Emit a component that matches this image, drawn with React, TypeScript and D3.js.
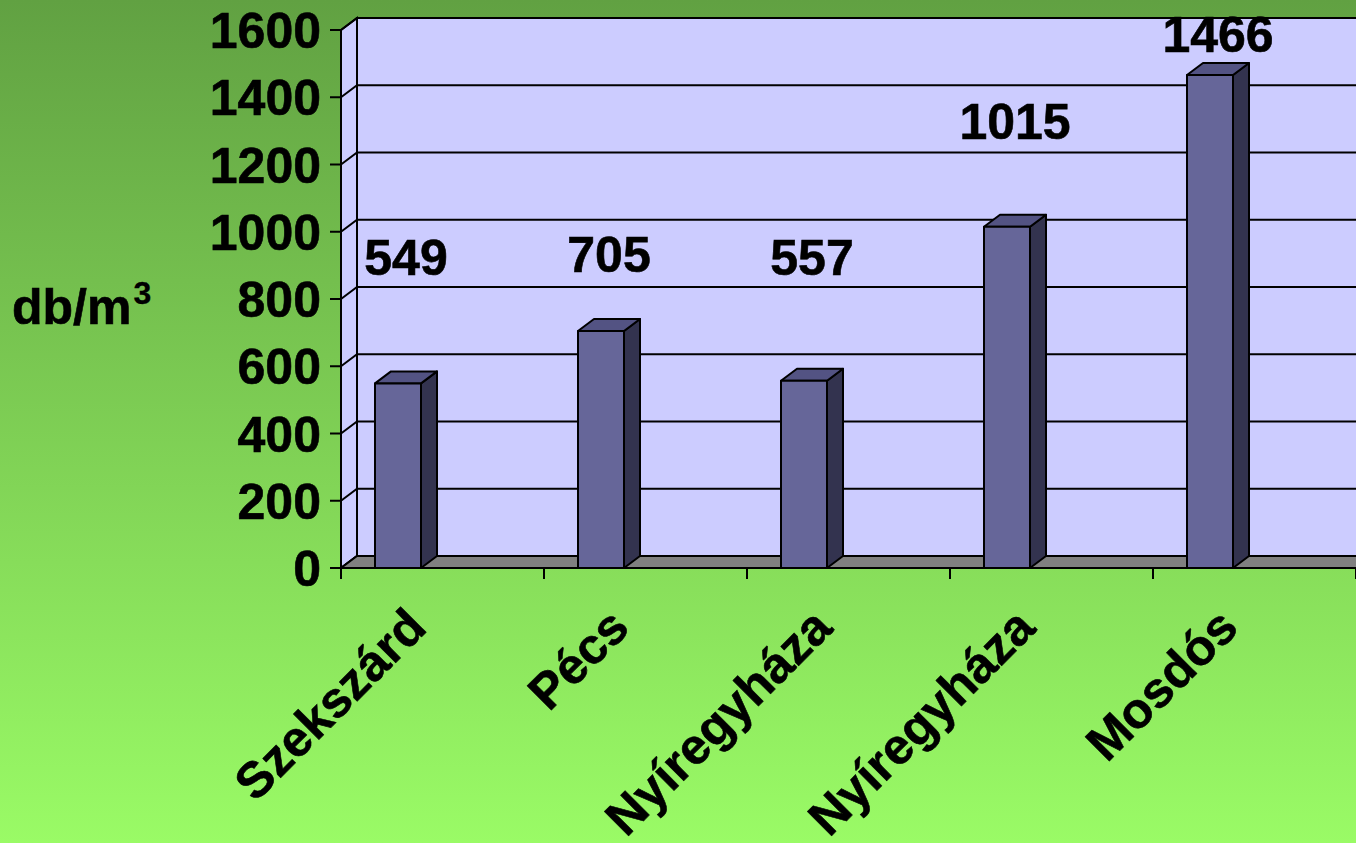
import * as d3 from "d3";
import { useEffect, useRef } from "react";

const categories = ["Szekszárd", "Pécs", "Nyíregyháza", "Nyíregyháza ", "Mosdós"];
const values = [549, 705, 557, 1015, 1466];
// where each value label sits, in chart units (hand placed in the original)
const labelLevels = [871, 880, 871, 1276, 1535];
const yTicks = [0, 200, 400, 600, 800, 1000, 1200, 1400, 1600];

export default function App() {
  const ref = useRef<SVGSVGElement>(null);

  useEffect(() => {
    if (!ref.current) return;
    const el = ref.current;
    d3.select(el).selectAll("*").remove();

    const W = 1356;
    const H = 843;
    const left = 341;
    const dx = 16;
    const dy = -12;
    const font = "'Liberation Sans', Arial, sans-serif";
    const fs = 50;

    const svg = d3.select(el).attr("width", W).attr("height", H).attr("viewBox", `0 0 ${W} ${H}`);

    const grad = svg.append("defs").append("linearGradient").attr("id", "bg").attr("x1", 0).attr("y1", 0).attr("x2", 0).attr("y2", 1);
    grad.append("stop").attr("offset", "0%").attr("stop-color", "#61a142");
    grad.append("stop").attr("offset", "100%").attr("stop-color", "#9afb66");
    svg.append("rect").attr("width", W).attr("height", H).attr("fill", "url(#bg)");

    const y = d3.scaleLinear().domain([0, 1600]).range([568, 30]);
    const x = d3.scaleBand().domain(categories).range([left, W]).padding(0);
    const y0 = y(0);
    const yTop = y(1600);

    // side wall + back wall
    svg.append("path")
      .attr("d", `M${left},${yTop} L${left + dx},${yTop + dy} L${left + dx},${y0 + dy} L${left},${y0} Z`)
      .attr("fill", "#ccccff").attr("stroke", "#000").attr("stroke-width", 2);
    svg.append("rect")
      .attr("x", left + dx).attr("y", yTop + dy).attr("width", W - left - dx + 2).attr("height", y0 - yTop)
      .attr("fill", "#ccccff").attr("stroke", "#000").attr("stroke-width", 2);

    // gridlines
    const grid = svg.append("g").attr("stroke", "#000").attr("stroke-width", 2).attr("fill", "none");
    yTicks.forEach(t => {
      grid.append("path").attr("d", `M${left},${y(t)} L${left + dx},${y(t) + dy} L${W},${y(t) + dy}`);
    });

    // floor
    svg.append("path")
      .attr("d", `M${left},${y0} L${left + dx},${y0 + dy} L${W + 2},${y0 + dy} L${W + 2},${y0} Z`)
      .attr("fill", "#808080").attr("stroke", "#000").attr("stroke-width", 2);

    // bars
    const bw = 46;
    const data = categories.map((c, i) => ({ c, v: values[i], l: labelLevels[i] }));
    const bars = svg.selectAll(".bar").data(data).join("g").attr("stroke", "#000").attr("stroke-width", 2).attr("stroke-linejoin", "round");
    bars.append("path")
      .attr("fill", "#33334f")
      .attr("d", d => {
        const bx = x(d.c)! + 34 + bw;
        return `M${bx},${y(d.v)} L${bx + dx},${y(d.v) + dy} L${bx + dx},${y0 + dy} L${bx},${y0} Z`;
      });
    bars.append("path")
      .attr("fill", "#535383")
      .attr("d", d => {
        const bx = x(d.c)! + 34;
        const t = y(d.v);
        return `M${bx},${t} L${bx + dx},${t + dy} L${bx + bw + dx},${t + dy} L${bx + bw},${t} Z`;
      });
    bars.append("rect")
      .attr("fill", "#666699")
      .attr("x", d => x(d.c)! + 34)
      .attr("y", d => y(d.v))
      .attr("width", bw)
      .attr("height", d => y0 - y(d.v));

    // axes
    const axes = svg.append("g").attr("stroke", "#000").attr("stroke-width", 2);
    axes.append("line").attr("x1", left).attr("x2", left).attr("y1", yTop).attr("y2", y0 + 11);
    axes.append("line").attr("x1", left).attr("x2", W).attr("y1", y0).attr("y2", y0);
    yTicks.forEach(t => {
      axes.append("line").attr("x1", left - 11).attr("x2", left).attr("y1", y(t)).attr("y2", y(t));
    });
    categories.forEach(c => {
      const xs = x(c)! + x.bandwidth();
      axes.append("line").attr("x1", xs).attr("x2", xs).attr("y1", y0).attr("y2", y0 + 11);
    });

    const txt = (sel: any) =>
      sel.attr("font-family", font).attr("font-weight", 700).attr("font-size", fs)
        .attr("fill", "#000").attr("stroke", "#000").attr("stroke-width", 0.6);

    // y tick labels
    svg.selectAll(".ytl").data(yTicks).join("text")
      .attr("x", 321)
      .attr("y", d => y(d) + 18)
      .attr("text-anchor", "end")
      .call(txt)
      .text(d => d);

    // value labels
    svg.selectAll(".vl").data(data).join("text")
      .attr("x", d => x(d.c)! + 34 + bw / 2 + 8)
      .attr("y", d => y(d.l))
      .attr("text-anchor", "middle")
      .call(txt)
      .text(d => d.v);

    // category labels
    svg.selectAll(".cl").data(categories).join("text")
      .attr("transform", d => `translate(${x(d)! + x.bandwidth() / 2 - 14},${630}) rotate(-45)`)
      .attr("text-anchor", "end")
      .call(txt)
      .text(d => d.trim());

    // unit label
    const unit = svg.append("text")
      .attr("x", 12).attr("y", 324)
      .call(txt);
    unit.append("tspan").text("db/m");
    unit.append("tspan").attr("font-size", 32).attr("dy", -20).attr("dx", 2).attr("stroke-width", 0.3).text("3");
  }, []);

  return (
    <svg ref={ref} style={{ position: "absolute", top: 0, left: 0, display: "block" }} />
  );
}
